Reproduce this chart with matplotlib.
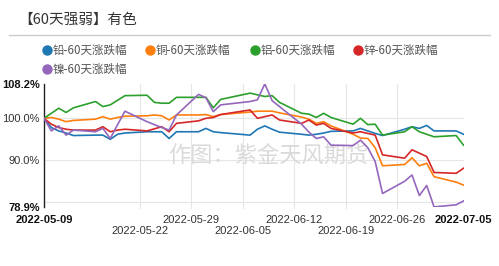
import matplotlib
matplotlib.use("Agg")
import matplotlib.pyplot as plt
from matplotlib.lines import Line2D
import pandas as pd

plt.rcParams['font.family'] = ['Liberation Sans', 'Noto Sans CJK SC', 'DejaVu Sans']

dates = ['2022-05-09', '2022-05-10', '2022-05-11', '2022-05-12', '2022-05-13',
         '2022-05-16', '2022-05-17', '2022-05-18', '2022-05-19', '2022-05-20',
         '2022-05-23', '2022-05-24', '2022-05-25', '2022-05-26', '2022-05-27',
         '2022-05-30', '2022-05-31', '2022-06-01', '2022-06-02',
         '2022-06-06', '2022-06-07', '2022-06-08', '2022-06-09', '2022-06-10',
         '2022-06-13', '2022-06-14', '2022-06-15', '2022-06-16', '2022-06-17',
         '2022-06-20', '2022-06-21', '2022-06-22', '2022-06-23', '2022-06-24',
         '2022-06-27', '2022-06-28', '2022-06-29', '2022-06-30', '2022-07-01',
         '2022-07-04', '2022-07-05']

lead = [100.0, 97.8, 97.0, 96.5, 95.9,
        96.0, 96.0, 95.0, 96.2, 96.5,
        96.8, 96.8, 96.8, 95.2, 96.8,
        96.8, 97.6, 96.8, 96.6,
        96.0, 97.4, 98.2, 97.4, 96.7,
        96.2, 96.0, 96.2, 96.5, 96.9,
        97.0, 97.6, 97.0, 96.4, 95.9,
        97.4, 98.0, 97.6, 98.3, 97.0,
        97.0, 96.2]

copper = [100.0, 100.2, 99.8, 99.2, 99.5,
          99.8, 100.4, 99.8, 100.2, 100.5,
          100.6, 100.8, 100.6, 99.6, 100.8,
          100.8, 100.9, 100.4, 100.9,
          101.5, 101.7, 101.7, 101.7, 101.3,
          100.3, 99.8, 98.8, 99.2, 98.2,
          96.2, 95.3, 95.2, 93.0, 88.7,
          89.0, 90.6, 88.7, 89.3, 86.1,
          84.8, 84.1]

aluminum = [100.0, 101.2, 102.4, 101.4, 102.5,
            104.0, 102.8, 103.2, 104.3, 105.4,
            105.5, 103.8, 103.6, 103.6, 105.0,
            105.0, 105.0, 102.5, 104.5,
            106.0, 105.6, 105.2, 105.4, 103.8,
            101.2, 101.0, 100.2, 101.2, 100.2,
            98.6, 100.0, 98.5, 98.6, 96.0,
            96.8, 98.0, 96.8, 96.2, 95.6,
            95.9, 93.6]

zinc = [100.0, 98.6, 97.8, 97.4, 97.2,
        97.2, 98.0, 96.8, 97.2, 97.4,
        97.0, 97.5, 98.0, 96.8, 98.8,
        99.4, 100.0, 100.2, 100.9,
        102.0, 100.0, 100.4, 100.8, 99.6,
        98.8, 99.6, 98.4, 98.8, 97.6,
        96.5, 96.8, 96.4, 96.0, 91.3,
        90.5, 92.5, 91.7, 90.9, 87.1,
        86.9, 88.1]

nickel = [100.0, 97.0, 98.2, 96.0, 97.2,
          96.8, 97.6, 95.2, 98.5, 101.7,
          99.2, 98.5, 97.8, 97.2, 100.8,
          105.7, 104.9, 101.6, 103.2,
          104.0, 104.4, 108.2, 104.2, 102.8,
          98.6, 96.7, 95.2, 95.6, 93.6,
          93.5, 94.8, 93.0, 89.7, 82.1,
          85.0, 86.5, 81.6, 84.0, 78.9,
          79.4, 80.3]

series_names = ['铅-60天涨跌幅', '铜-60天涨跌幅', '铝-60天涨跌幅', '锌-60天涨跌幅', '镍-60天涨跌幅']
series_values = [lead, copper, aluminum, zinc, nickel]
colors = ['#1f77b4', '#ff7f0e', '#2ca02c', '#d62728', '#9467bd']

title = '【60天强弱】有色'
watermark = '作图：紫金天风期货'
row1_ticks = ['2022-05-09', '2022-05-29', '2022-06-12', '2022-06-26', '2022-07-05']
row2_ticks = ['2022-05-22', '2022-06-05', '2022-06-19']
week_grid = ['2022-05-22', '2022-05-29', '2022-06-05', '2022-06-12', '2022-06-19', '2022-06-26']
y_labels = [78.9, 90.0, 100.0, 108.2]
y_grid = [80, 90, 100]

W, H = 499, 266
fig = plt.figure(figsize=(W / 100, H / 100), dpi=100)
fig.patch.set_facecolor('white')

x = pd.to_datetime(dates)
ax = fig.add_axes([44 / W, 1 - 206.9 / H, (463.5 - 44) / W, (206.9 - 83.9) / H])
ax.set_facecolor('none')

for g in y_grid:
    ax.axhline(g, color='#e6e6e6', lw=0.8, zorder=0)
for d in week_grid:
    ax.axvline(pd.Timestamp(d), color='#e6e6e6', lw=0.8, zorder=0, ymin=-0.01, ymax=1, clip_on=False)

ax.text(0.535, 0.41, watermark, transform=ax.transAxes, fontsize=16,
        color='#dadada', ha='center', va='center', zorder=1,
        family=['Noto Sans CJK SC', 'DejaVu Sans'])

for vals, c in zip(series_values, colors):
    ax.plot(x, vals, color=c, lw=1.2, zorder=3)

ax.set_xlim(pd.Timestamp(dates[0]), pd.Timestamp(dates[-1]))
ax.set_ylim(min(y_labels), max(y_labels))

for s in ['top', 'right', 'bottom']:
    ax.spines[s].set_visible(False)
ax.spines['left'].set_color('#222222')
ax.spines['left'].set_linewidth(1.0)

ax.set_yticks(y_labels)
ax.set_yticklabels([f'{v:.1f}%' for v in y_labels])
ax.tick_params(axis='y', length=0, pad=3, labelsize=8, labelcolor='#333333')
ylabs = ax.get_yticklabels()
ylabs[0].set_fontweight('bold'); ylabs[-1].set_fontweight('bold')
ylabs[0].set_color('#111111'); ylabs[-1].set_color('#111111')

ax.set_xticks(pd.to_datetime(row1_ticks))
ax.set_xticklabels(row1_ticks)
ax.set_xticks(pd.to_datetime(row2_ticks), minor=True)
ax.set_xticklabels(row2_ticks, minor=True)
ax.tick_params(axis='x', which='major', length=0, pad=6, labelsize=8, labelcolor='#333333')
ax.tick_params(axis='x', which='minor', length=0, pad=14, labelsize=8, labelcolor='#333333')
xl = ax.get_xticklabels()
for i in (0, len(xl) - 1):
    xl[i].set_fontweight('bold'); xl[i].set_color('#111111')

# Title and separator
fig.text(18 / W, 1 - 20 / H, title, fontsize=10.5, color='#333333', ha='left', va='center',
         family=['Noto Sans CJK SC', 'DejaVu Sans'])
fig.add_artist(Line2D([9 / W, 490 / W], [1 - 35 / H, 1 - 35 / H], transform=fig.transFigure,
                      color='#cccccc', lw=1.0))

# Legend
legend_pos = [(47, 50), (150, 50), (255, 50), (358, 50), (47, 69)]
for (lx, ly), name, c in zip(legend_pos, series_names, colors):
    fig.add_artist(Line2D([lx / W], [1 - ly / H], transform=fig.transFigure, marker='o',
                          markersize=7.5, color=c, markeredgewidth=0, linestyle='none'))
    fig.text((lx + 6) / W, 1 - ly / H, name, fontsize=8.3, color='#555555', ha='left', va='center',
             family=['Noto Sans CJK SC', 'DejaVu Sans'])

fig.savefig('out.png', dpi=100, facecolor='white')
